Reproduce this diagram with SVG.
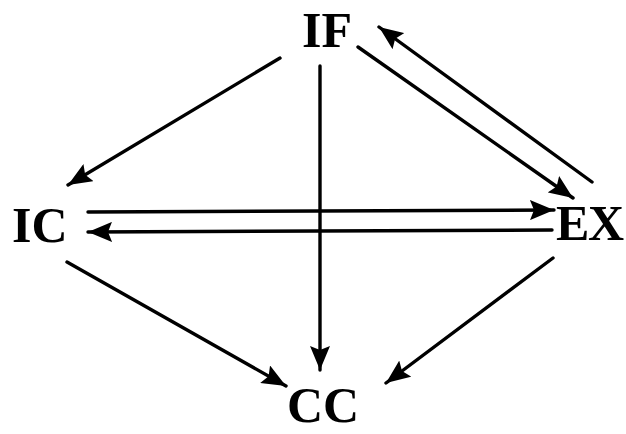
<svg xmlns="http://www.w3.org/2000/svg" width="626" height="434" viewBox="0 0 626 434">
<style>
.lbl{font-family:"Liberation Serif","Times New Roman",serif;font-weight:bold;font-size:50px;fill:#000}
.c{stroke:#000;stroke-width:3.4;fill:none;stroke-linecap:round}
</style>
<defs>
<marker id="ah" markerUnits="userSpaceOnUse" markerWidth="26" markerHeight="20" refX="24" refY="10" orient="auto">
<path d="M0,0 L24,10 L0,20 L4,10 Z" fill="#000"/>
</marker>
</defs>
<rect width="626" height="434" fill="#fff"/>
<g id="connectors">
<line class="c" x1="280" y1="58" x2="68" y2="185" marker-end="url(#ah)"/>
<line class="c" x1="320" y1="66" x2="320" y2="370" marker-end="url(#ah)"/>
<line class="c" x1="358" y1="47" x2="573" y2="198" marker-end="url(#ah)"/>
<line class="c" x1="592" y1="182" x2="379" y2="27" marker-end="url(#ah)"/>
<line class="c" x1="88" y1="212" x2="554" y2="210" marker-end="url(#ah)"/>
<line class="c" x1="552" y1="230" x2="88" y2="232" marker-end="url(#ah)"/>
<line class="c" x1="67" y1="262" x2="286" y2="386" marker-end="url(#ah)"/>
<line class="c" x1="553" y1="258" x2="386" y2="383" marker-end="url(#ah)"/>
</g>
<g id="IF"><text class="lbl" x="302" y="47">IF</text></g>
<g id="IC"><text class="lbl" x="12" y="242">IC</text></g>
<g id="EX"><text class="lbl" x="556" y="240" textLength="68" lengthAdjust="spacing">EX</text></g>
<g id="CC"><text class="lbl" x="287" y="422">CC</text></g>
</svg>
